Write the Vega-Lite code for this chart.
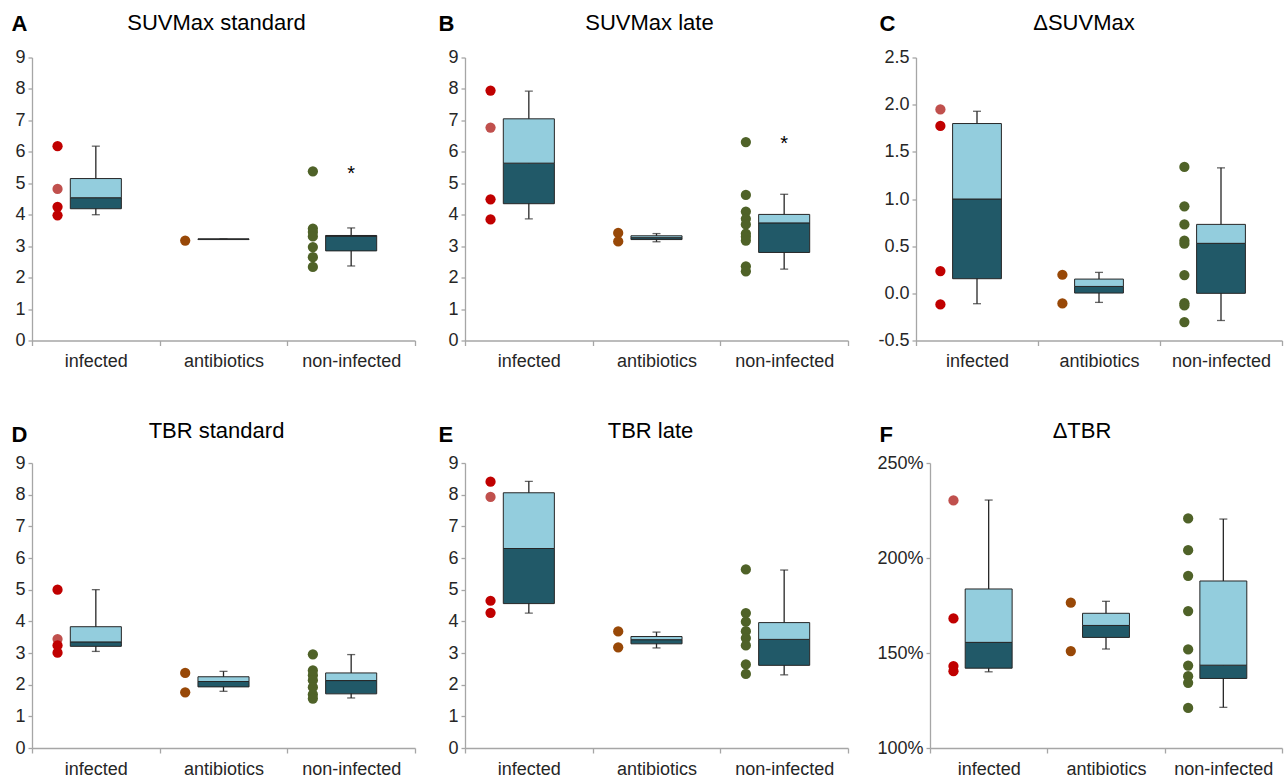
{
 "$schema": "https://vega.github.io/schema/vega-lite/v6.json",
 "padding": {"left": 11, "top": 11.5, "right": 2, "bottom": 0},
 "background": "white",
 "datasets": {
  "points": [
   {"panel":"A","group":"infected","series":"infected (b)","value":4.82},
   {"panel":"A","group":"infected","series":"infected","value":6.18},
   {"panel":"A","group":"infected","series":"infected","value":4.25},
   {"panel":"A","group":"infected","series":"infected","value":3.98},
   {"panel":"A","group":"antibiotics","series":"antibiotics","value":3.18},
   {"panel":"A","group":"non-infected","series":"non-infected","value":5.38},
   {"panel":"A","group":"non-infected","series":"non-infected","value":3.56},
   {"panel":"A","group":"non-infected","series":"non-infected","value":3.45},
   {"panel":"A","group":"non-infected","series":"non-infected","value":3.31},
   {"panel":"A","group":"non-infected","series":"non-infected","value":2.97},
   {"panel":"A","group":"non-infected","series":"non-infected","value":2.65},
   {"panel":"A","group":"non-infected","series":"non-infected","value":2.34},
   {"panel":"B","group":"infected","series":"infected (b)","value":6.77},
   {"panel":"B","group":"infected","series":"infected","value":7.95},
   {"panel":"B","group":"infected","series":"infected","value":4.49},
   {"panel":"B","group":"infected","series":"infected","value":3.85},
   {"panel":"B","group":"antibiotics","series":"antibiotics","value":3.42},
   {"panel":"B","group":"antibiotics","series":"antibiotics","value":3.15},
   {"panel":"B","group":"non-infected","series":"non-infected","value":6.31},
   {"panel":"B","group":"non-infected","series":"non-infected","value":4.63},
   {"panel":"B","group":"non-infected","series":"non-infected","value":4.10},
   {"panel":"B","group":"non-infected","series":"non-infected","value":3.87},
   {"panel":"B","group":"non-infected","series":"non-infected","value":3.69},
   {"panel":"B","group":"non-infected","series":"non-infected","value":3.40},
   {"panel":"B","group":"non-infected","series":"non-infected","value":3.30},
   {"panel":"B","group":"non-infected","series":"non-infected","value":3.18},
   {"panel":"B","group":"non-infected","series":"non-infected","value":2.36},
   {"panel":"B","group":"non-infected","series":"non-infected","value":2.20},
   {"panel":"C","group":"infected","series":"infected (b)","value":1.95},
   {"panel":"C","group":"infected","series":"infected","value":1.775},
   {"panel":"C","group":"infected","series":"infected","value":0.236},
   {"panel":"C","group":"infected","series":"infected","value":-0.118},
   {"panel":"C","group":"antibiotics","series":"antibiotics","value":0.197},
   {"panel":"C","group":"antibiotics","series":"antibiotics","value":-0.107},
   {"panel":"C","group":"non-infected","series":"non-infected","value":1.34},
   {"panel":"C","group":"non-infected","series":"non-infected","value":0.922},
   {"panel":"C","group":"non-infected","series":"non-infected","value":0.731},
   {"panel":"C","group":"non-infected","series":"non-infected","value":0.558},
   {"panel":"C","group":"non-infected","series":"non-infected","value":0.526},
   {"panel":"C","group":"non-infected","series":"non-infected","value":0.194},
   {"panel":"C","group":"non-infected","series":"non-infected","value":-0.104},
   {"panel":"C","group":"non-infected","series":"non-infected","value":-0.128},
   {"panel":"C","group":"non-infected","series":"non-infected","value":-0.305},
   {"panel":"D","group":"infected","series":"infected (b)","value":3.44},
   {"panel":"D","group":"infected","series":"infected","value":5.0},
   {"panel":"D","group":"infected","series":"infected","value":3.24},
   {"panel":"D","group":"infected","series":"infected","value":3.01},
   {"panel":"D","group":"antibiotics","series":"antibiotics","value":2.37},
   {"panel":"D","group":"antibiotics","series":"antibiotics","value":1.76},
   {"panel":"D","group":"non-infected","series":"non-infected","value":2.96},
   {"panel":"D","group":"non-infected","series":"non-infected","value":2.45},
   {"panel":"D","group":"non-infected","series":"non-infected","value":2.30},
   {"panel":"D","group":"non-infected","series":"non-infected","value":2.14},
   {"panel":"D","group":"non-infected","series":"non-infected","value":1.92},
   {"panel":"D","group":"non-infected","series":"non-infected","value":1.69},
   {"panel":"D","group":"non-infected","series":"non-infected","value":1.56},
   {"panel":"E","group":"infected","series":"infected (b)","value":7.93},
   {"panel":"E","group":"infected","series":"infected","value":8.41},
   {"panel":"E","group":"infected","series":"infected","value":4.65},
   {"panel":"E","group":"infected","series":"infected","value":4.27},
   {"panel":"E","group":"antibiotics","series":"antibiotics","value":3.68},
   {"panel":"E","group":"antibiotics","series":"antibiotics","value":3.18},
   {"panel":"E","group":"non-infected","series":"non-infected","value":5.64},
   {"panel":"E","group":"non-infected","series":"non-infected","value":4.26},
   {"panel":"E","group":"non-infected","series":"non-infected","value":3.99},
   {"panel":"E","group":"non-infected","series":"non-infected","value":3.69},
   {"panel":"E","group":"non-infected","series":"non-infected","value":3.47},
   {"panel":"E","group":"non-infected","series":"non-infected","value":3.24},
   {"panel":"E","group":"non-infected","series":"non-infected","value":2.64},
   {"panel":"E","group":"non-infected","series":"non-infected","value":2.34},
   {"panel":"F","group":"infected","series":"infected (b)","value":2.303},
   {"panel":"F","group":"infected","series":"infected","value":1.682},
   {"panel":"F","group":"infected","series":"infected","value":1.431},
   {"panel":"F","group":"infected","series":"infected","value":1.404},
   {"panel":"F","group":"antibiotics","series":"antibiotics","value":1.765},
   {"panel":"F","group":"antibiotics","series":"antibiotics","value":1.510},
   {"panel":"F","group":"non-infected","series":"non-infected","value":2.208},
   {"panel":"F","group":"non-infected","series":"non-infected","value":2.041},
   {"panel":"F","group":"non-infected","series":"non-infected","value":1.906},
   {"panel":"F","group":"non-infected","series":"non-infected","value":1.721},
   {"panel":"F","group":"non-infected","series":"non-infected","value":1.519},
   {"panel":"F","group":"non-infected","series":"non-infected","value":1.434},
   {"panel":"F","group":"non-infected","series":"non-infected","value":1.378},
   {"panel":"F","group":"non-infected","series":"non-infected","value":1.343},
   {"panel":"F","group":"non-infected","series":"non-infected","value":1.211}
  ],
  "boxes": [
   {"panel":"A","group":"infected","low":4.0,"q1":4.19,"median":4.54,"q3":5.15,"high":6.18},
   {"panel":"A","group":"antibiotics","low":3.22,"q1":3.21,"median":3.22,"q3":3.23,"high":3.22},
   {"panel":"A","group":"non-infected","low":2.37,"q1":2.85,"median":3.32,"q3":3.34,"high":3.58},
   {"panel":"B","group":"infected","low":3.87,"q1":4.35,"median":5.64,"q3":7.05,"high":7.93},
   {"panel":"B","group":"antibiotics","low":3.14,"q1":3.21,"median":3.27,"q3":3.33,"high":3.40},
   {"panel":"B","group":"non-infected","low":2.27,"q1":2.80,"median":3.74,"q3":4.01,"high":4.65},
   {"panel":"C","group":"infected","low":-0.11,"q1":0.155,"median":1.0,"q3":1.80,"high":1.93},
   {"panel":"C","group":"antibiotics","low":-0.096,"q1":0.003,"median":0.073,"q3":0.151,"high":0.222},
   {"panel":"C","group":"non-infected","low":-0.288,"q1":0.0,"median":0.53,"q3":0.731,"high":1.33},
   {"panel":"D","group":"infected","low":3.05,"q1":3.21,"median":3.35,"q3":3.83,"high":5.0},
   {"panel":"D","group":"antibiotics","low":1.79,"q1":1.93,"median":2.10,"q3":2.25,"high":2.42},
   {"panel":"D","group":"non-infected","low":1.58,"q1":1.71,"median":2.13,"q3":2.37,"high":2.95},
   {"panel":"E","group":"infected","low":4.26,"q1":4.56,"median":6.30,"q3":8.06,"high":8.42},
   {"panel":"E","group":"antibiotics","low":3.16,"q1":3.29,"median":3.42,"q3":3.52,"high":3.66},
   {"panel":"E","group":"non-infected","low":2.31,"q1":2.61,"median":3.43,"q3":3.96,"high":5.62},
   {"panel":"F","group":"infected","low":1.401,"q1":1.420,"median":1.556,"q3":1.837,"high":2.305},
   {"panel":"F","group":"antibiotics","low":1.521,"q1":1.582,"median":1.645,"q3":1.709,"high":1.772},
   {"panel":"F","group":"non-infected","low":1.214,"q1":1.366,"median":1.436,"q3":1.879,"high":2.205}
  ],
  "stars": [
   {"panel":"A","group":"non-infected","value":5.3,"label":"*"},
   {"panel":"B","group":"non-infected","value":6.25,"label":"*"}
  ]
 },
 "spacing": 49.5,
 "vconcat": [
  {"spacing": 10, "hconcat": [
   {"width":383,"height":283,
    "title":{"text":"SUVMax standard","dx":-7,"dy":26.5},
    "encoding":{"x":{"field":"group","type":"nominal","sort":["infected","antibiotics","non-infected"],"scale":{"paddingInner":0,"paddingOuter":0},"title":null}},
    "layer":[
     {"data":{"name":"boxes"},"transform":[{"filter":"datum.panel === 'A'"}],"mark":{"type":"rule","color":"#262626","strokeWidth":1.3},
      "encoding":{"y":{"field":"low","type":"quantitative","title":"A","scale":{"domain":[0,9],"nice":false},"axis":{"values":[0,1,2,3,4,5,6,7,8,9],"titleX":-21,"titleY":-27}},"y2":{"field":"high"}}},
     {"data":{"name":"boxes"},"transform":[{"filter":"datum.panel === 'A'"}],"mark":{"type":"tick","orient":"horizontal","size":8,"thickness":1.3,"color":"#262626"},
      "encoding":{"y":{"field":"low","type":"quantitative","title":"A","scale":{"domain":[0,9],"nice":false},"axis":{"values":[0,1,2,3,4,5,6,7,8,9],"titleX":-21,"titleY":-27}}}},
     {"data":{"name":"boxes"},"transform":[{"filter":"datum.panel === 'A'"}],"mark":{"type":"tick","orient":"horizontal","size":8,"thickness":1.3,"color":"#262626"},
      "encoding":{"y":{"field":"high","type":"quantitative","title":"A","scale":{"domain":[0,9],"nice":false},"axis":{"values":[0,1,2,3,4,5,6,7,8,9],"titleX":-21,"titleY":-27}}}},
     {"data":{"name":"boxes"},"transform":[{"filter":"datum.panel === 'A'"}],"mark":{"type":"bar","width":{"band":0.4},"fill":"#215968","stroke":"#262626","strokeWidth":1},
      "encoding":{"y":{"field":"q1","type":"quantitative","title":"A","scale":{"domain":[0,9],"nice":false},"axis":{"values":[0,1,2,3,4,5,6,7,8,9],"titleX":-21,"titleY":-27}},"y2":{"field":"median"}}},
     {"data":{"name":"boxes"},"transform":[{"filter":"datum.panel === 'A'"}],"mark":{"type":"bar","width":{"band":0.4},"fill":"#93cddd","stroke":"#262626","strokeWidth":1},
      "encoding":{"y":{"field":"median","type":"quantitative","title":"A","scale":{"domain":[0,9],"nice":false},"axis":{"values":[0,1,2,3,4,5,6,7,8,9],"titleX":-21,"titleY":-27}},"y2":{"field":"q3"}}},
     {"data":{"name":"points"},"transform":[{"filter":"datum.panel === 'A'"}],"mark":{"type":"circle","size":105,"opacity":1},
      "encoding":{"x":{"field":"group","type":"nominal","sort":["infected","antibiotics","non-infected"],"scale":{"paddingInner":0,"paddingOuter":0},"title":null,"bandPosition":0.2},
       "y":{"field":"value","type":"quantitative","title":"A","scale":{"domain":[0,9],"nice":false},"axis":{"values":[0,1,2,3,4,5,6,7,8,9],"titleX":-21,"titleY":-27}},
       "color":{"field":"series","type":"nominal","scale":{"domain":["infected","infected (b)","antibiotics","non-infected"],"range":["#c00000","#c0504d","#984807","#4f6228"]},"legend":null}}},
     {"data":{"name":"stars"},"transform":[{"filter":"datum.panel === 'A'"}],"mark":{"type":"text","fontSize":20,"baseline":"middle","color":"#000000","font":"Liberation Sans"},
      "encoding":{"y":{"field":"value","type":"quantitative","title":"A","scale":{"domain":[0,9],"nice":false},"axis":{"values":[0,1,2,3,4,5,6,7,8,9],"titleX":-21,"titleY":-27}},"text":{"field":"label"}}}
    ]},
   {"width":383,"height":283,
    "title":{"text":"SUVMax late","dx":-7,"dy":26.5},
    "encoding":{"x":{"field":"group","type":"nominal","sort":["infected","antibiotics","non-infected"],"scale":{"paddingInner":0,"paddingOuter":0},"title":null}},
    "layer":[
     {"data":{"name":"boxes"},"transform":[{"filter":"datum.panel === 'B'"}],"mark":{"type":"rule","color":"#262626","strokeWidth":1.3},
      "encoding":{"y":{"field":"low","type":"quantitative","title":"B","scale":{"domain":[0,9],"nice":false},"axis":{"values":[0,1,2,3,4,5,6,7,8,9],"titleX":-27,"titleY":-27,"minExtent":39}},"y2":{"field":"high"}}},
     {"data":{"name":"boxes"},"transform":[{"filter":"datum.panel === 'B'"}],"mark":{"type":"tick","orient":"horizontal","size":8,"thickness":1.3,"color":"#262626"},
      "encoding":{"y":{"field":"low","type":"quantitative","title":"B","scale":{"domain":[0,9],"nice":false},"axis":{"values":[0,1,2,3,4,5,6,7,8,9],"titleX":-27,"titleY":-27,"minExtent":39}}}},
     {"data":{"name":"boxes"},"transform":[{"filter":"datum.panel === 'B'"}],"mark":{"type":"tick","orient":"horizontal","size":8,"thickness":1.3,"color":"#262626"},
      "encoding":{"y":{"field":"high","type":"quantitative","title":"B","scale":{"domain":[0,9],"nice":false},"axis":{"values":[0,1,2,3,4,5,6,7,8,9],"titleX":-27,"titleY":-27,"minExtent":39}}}},
     {"data":{"name":"boxes"},"transform":[{"filter":"datum.panel === 'B'"}],"mark":{"type":"bar","width":{"band":0.4},"fill":"#215968","stroke":"#262626","strokeWidth":1},
      "encoding":{"y":{"field":"q1","type":"quantitative","title":"B","scale":{"domain":[0,9],"nice":false},"axis":{"values":[0,1,2,3,4,5,6,7,8,9],"titleX":-27,"titleY":-27,"minExtent":39}},"y2":{"field":"median"}}},
     {"data":{"name":"boxes"},"transform":[{"filter":"datum.panel === 'B'"}],"mark":{"type":"bar","width":{"band":0.4},"fill":"#93cddd","stroke":"#262626","strokeWidth":1},
      "encoding":{"y":{"field":"median","type":"quantitative","title":"B","scale":{"domain":[0,9],"nice":false},"axis":{"values":[0,1,2,3,4,5,6,7,8,9],"titleX":-27,"titleY":-27,"minExtent":39}},"y2":{"field":"q3"}}},
     {"data":{"name":"points"},"transform":[{"filter":"datum.panel === 'B'"}],"mark":{"type":"circle","size":105,"opacity":1},
      "encoding":{"x":{"field":"group","type":"nominal","sort":["infected","antibiotics","non-infected"],"scale":{"paddingInner":0,"paddingOuter":0},"title":null,"bandPosition":0.2},
       "y":{"field":"value","type":"quantitative","title":"B","scale":{"domain":[0,9],"nice":false},"axis":{"values":[0,1,2,3,4,5,6,7,8,9],"titleX":-27,"titleY":-27,"minExtent":39}},
       "color":{"field":"series","type":"nominal","scale":{"domain":["infected","infected (b)","antibiotics","non-infected"],"range":["#c00000","#c0504d","#984807","#4f6228"]},"legend":null}}},
     {"data":{"name":"stars"},"transform":[{"filter":"datum.panel === 'B'"}],"mark":{"type":"text","fontSize":20,"baseline":"middle","color":"#000000","font":"Liberation Sans"},
      "encoding":{"y":{"field":"value","type":"quantitative","title":"B","scale":{"domain":[0,9],"nice":false},"axis":{"values":[0,1,2,3,4,5,6,7,8,9],"titleX":-27,"titleY":-27,"minExtent":39}},"text":{"field":"label"}}}
    ]},
   {"width":366,"height":283,
    "title":{"text":"ΔSUVMax","dx":-15,"dy":26.5},
    "encoding":{"x":{"field":"group","type":"nominal","sort":["infected","antibiotics","non-infected"],"scale":{"paddingInner":0,"paddingOuter":0},"title":null}},
    "layer":[
     {"data":{"name":"boxes"},"transform":[{"filter":"datum.panel === 'C'"}],"mark":{"type":"rule","color":"#262626","strokeWidth":1.3},
      "encoding":{"y":{"field":"low","type":"quantitative","title":"C","scale":{"domain":[-0.5,2.5],"nice":false},"axis":{"values":[-0.5,0,0.5,1,1.5,2,2.5],"labelExpr":"replace(format(datum.value, '.1f'), '−', '-')","titleX":-37,"titleY":-27,"minExtent":57}},"y2":{"field":"high"}}},
     {"data":{"name":"boxes"},"transform":[{"filter":"datum.panel === 'C'"}],"mark":{"type":"tick","orient":"horizontal","size":8,"thickness":1.3,"color":"#262626"},
      "encoding":{"y":{"field":"low","type":"quantitative","title":"C","scale":{"domain":[-0.5,2.5],"nice":false},"axis":{"values":[-0.5,0,0.5,1,1.5,2,2.5],"labelExpr":"replace(format(datum.value, '.1f'), '−', '-')","titleX":-37,"titleY":-27,"minExtent":57}}}},
     {"data":{"name":"boxes"},"transform":[{"filter":"datum.panel === 'C'"}],"mark":{"type":"tick","orient":"horizontal","size":8,"thickness":1.3,"color":"#262626"},
      "encoding":{"y":{"field":"high","type":"quantitative","title":"C","scale":{"domain":[-0.5,2.5],"nice":false},"axis":{"values":[-0.5,0,0.5,1,1.5,2,2.5],"labelExpr":"replace(format(datum.value, '.1f'), '−', '-')","titleX":-37,"titleY":-27,"minExtent":57}}}},
     {"data":{"name":"boxes"},"transform":[{"filter":"datum.panel === 'C'"}],"mark":{"type":"bar","width":{"band":0.4},"fill":"#215968","stroke":"#262626","strokeWidth":1},
      "encoding":{"y":{"field":"q1","type":"quantitative","title":"C","scale":{"domain":[-0.5,2.5],"nice":false},"axis":{"values":[-0.5,0,0.5,1,1.5,2,2.5],"labelExpr":"replace(format(datum.value, '.1f'), '−', '-')","titleX":-37,"titleY":-27,"minExtent":57}},"y2":{"field":"median"}}},
     {"data":{"name":"boxes"},"transform":[{"filter":"datum.panel === 'C'"}],"mark":{"type":"bar","width":{"band":0.4},"fill":"#93cddd","stroke":"#262626","strokeWidth":1},
      "encoding":{"y":{"field":"median","type":"quantitative","title":"C","scale":{"domain":[-0.5,2.5],"nice":false},"axis":{"values":[-0.5,0,0.5,1,1.5,2,2.5],"labelExpr":"replace(format(datum.value, '.1f'), '−', '-')","titleX":-37,"titleY":-27,"minExtent":57}},"y2":{"field":"q3"}}},
     {"data":{"name":"points"},"transform":[{"filter":"datum.panel === 'C'"}],"mark":{"type":"circle","size":105,"opacity":1},
      "encoding":{"x":{"field":"group","type":"nominal","sort":["infected","antibiotics","non-infected"],"scale":{"paddingInner":0,"paddingOuter":0},"title":null,"bandPosition":0.2},
       "y":{"field":"value","type":"quantitative","title":"C","scale":{"domain":[-0.5,2.5],"nice":false},"axis":{"values":[-0.5,0,0.5,1,1.5,2,2.5],"labelExpr":"replace(format(datum.value, '.1f'), '−', '-')","titleX":-37,"titleY":-27,"minExtent":57}},
       "color":{"field":"series","type":"nominal","scale":{"domain":["infected","infected (b)","antibiotics","non-infected"],"range":["#c00000","#c0504d","#984807","#4f6228"]},"legend":null}}}
    ]}
  ]},
  {"spacing": 10, "hconcat": [
   {"width":383,"height":285,
    "title":{"text":"TBR standard","dx":-7,"dy":24},
    "encoding":{"x":{"field":"group","type":"nominal","sort":["infected","antibiotics","non-infected"],"scale":{"paddingInner":0,"paddingOuter":0},"title":null}},
    "layer":[
     {"data":{"name":"boxes"},"transform":[{"filter":"datum.panel === 'D'"}],"mark":{"type":"rule","color":"#262626","strokeWidth":1.3},
      "encoding":{"y":{"field":"low","type":"quantitative","title":"D","scale":{"domain":[0,9],"nice":false},"axis":{"values":[0,1,2,3,4,5,6,7,8,9],"titleX":-21,"titleY":-22}},"y2":{"field":"high"}}},
     {"data":{"name":"boxes"},"transform":[{"filter":"datum.panel === 'D'"}],"mark":{"type":"tick","orient":"horizontal","size":8,"thickness":1.3,"color":"#262626"},
      "encoding":{"y":{"field":"low","type":"quantitative","title":"D","scale":{"domain":[0,9],"nice":false},"axis":{"values":[0,1,2,3,4,5,6,7,8,9],"titleX":-21,"titleY":-22}}}},
     {"data":{"name":"boxes"},"transform":[{"filter":"datum.panel === 'D'"}],"mark":{"type":"tick","orient":"horizontal","size":8,"thickness":1.3,"color":"#262626"},
      "encoding":{"y":{"field":"high","type":"quantitative","title":"D","scale":{"domain":[0,9],"nice":false},"axis":{"values":[0,1,2,3,4,5,6,7,8,9],"titleX":-21,"titleY":-22}}}},
     {"data":{"name":"boxes"},"transform":[{"filter":"datum.panel === 'D'"}],"mark":{"type":"bar","width":{"band":0.4},"fill":"#215968","stroke":"#262626","strokeWidth":1},
      "encoding":{"y":{"field":"q1","type":"quantitative","title":"D","scale":{"domain":[0,9],"nice":false},"axis":{"values":[0,1,2,3,4,5,6,7,8,9],"titleX":-21,"titleY":-22}},"y2":{"field":"median"}}},
     {"data":{"name":"boxes"},"transform":[{"filter":"datum.panel === 'D'"}],"mark":{"type":"bar","width":{"band":0.4},"fill":"#93cddd","stroke":"#262626","strokeWidth":1},
      "encoding":{"y":{"field":"median","type":"quantitative","title":"D","scale":{"domain":[0,9],"nice":false},"axis":{"values":[0,1,2,3,4,5,6,7,8,9],"titleX":-21,"titleY":-22}},"y2":{"field":"q3"}}},
     {"data":{"name":"points"},"transform":[{"filter":"datum.panel === 'D'"}],"mark":{"type":"circle","size":105,"opacity":1},
      "encoding":{"x":{"field":"group","type":"nominal","sort":["infected","antibiotics","non-infected"],"scale":{"paddingInner":0,"paddingOuter":0},"title":null,"bandPosition":0.2},
       "y":{"field":"value","type":"quantitative","title":"D","scale":{"domain":[0,9],"nice":false},"axis":{"values":[0,1,2,3,4,5,6,7,8,9],"titleX":-21,"titleY":-22}},
       "color":{"field":"series","type":"nominal","scale":{"domain":["infected","infected (b)","antibiotics","non-infected"],"range":["#c00000","#c0504d","#984807","#4f6228"]},"legend":null}}}
    ]},
   {"width":383,"height":285,
    "title":{"text":"TBR late","dx":-6,"dy":24},
    "encoding":{"x":{"field":"group","type":"nominal","sort":["infected","antibiotics","non-infected"],"scale":{"paddingInner":0,"paddingOuter":0},"title":null}},
    "layer":[
     {"data":{"name":"boxes"},"transform":[{"filter":"datum.panel === 'E'"}],"mark":{"type":"rule","color":"#262626","strokeWidth":1.3},
      "encoding":{"y":{"field":"low","type":"quantitative","title":"E","scale":{"domain":[0,9],"nice":false},"axis":{"values":[0,1,2,3,4,5,6,7,8,9],"titleX":-27,"titleY":-22,"minExtent":39}},"y2":{"field":"high"}}},
     {"data":{"name":"boxes"},"transform":[{"filter":"datum.panel === 'E'"}],"mark":{"type":"tick","orient":"horizontal","size":8,"thickness":1.3,"color":"#262626"},
      "encoding":{"y":{"field":"low","type":"quantitative","title":"E","scale":{"domain":[0,9],"nice":false},"axis":{"values":[0,1,2,3,4,5,6,7,8,9],"titleX":-27,"titleY":-22,"minExtent":39}}}},
     {"data":{"name":"boxes"},"transform":[{"filter":"datum.panel === 'E'"}],"mark":{"type":"tick","orient":"horizontal","size":8,"thickness":1.3,"color":"#262626"},
      "encoding":{"y":{"field":"high","type":"quantitative","title":"E","scale":{"domain":[0,9],"nice":false},"axis":{"values":[0,1,2,3,4,5,6,7,8,9],"titleX":-27,"titleY":-22,"minExtent":39}}}},
     {"data":{"name":"boxes"},"transform":[{"filter":"datum.panel === 'E'"}],"mark":{"type":"bar","width":{"band":0.4},"fill":"#215968","stroke":"#262626","strokeWidth":1},
      "encoding":{"y":{"field":"q1","type":"quantitative","title":"E","scale":{"domain":[0,9],"nice":false},"axis":{"values":[0,1,2,3,4,5,6,7,8,9],"titleX":-27,"titleY":-22,"minExtent":39}},"y2":{"field":"median"}}},
     {"data":{"name":"boxes"},"transform":[{"filter":"datum.panel === 'E'"}],"mark":{"type":"bar","width":{"band":0.4},"fill":"#93cddd","stroke":"#262626","strokeWidth":1},
      "encoding":{"y":{"field":"median","type":"quantitative","title":"E","scale":{"domain":[0,9],"nice":false},"axis":{"values":[0,1,2,3,4,5,6,7,8,9],"titleX":-27,"titleY":-22,"minExtent":39}},"y2":{"field":"q3"}}},
     {"data":{"name":"points"},"transform":[{"filter":"datum.panel === 'E'"}],"mark":{"type":"circle","size":105,"opacity":1},
      "encoding":{"x":{"field":"group","type":"nominal","sort":["infected","antibiotics","non-infected"],"scale":{"paddingInner":0,"paddingOuter":0},"title":null,"bandPosition":0.2},
       "y":{"field":"value","type":"quantitative","title":"E","scale":{"domain":[0,9],"nice":false},"axis":{"values":[0,1,2,3,4,5,6,7,8,9],"titleX":-27,"titleY":-22,"minExtent":39}},
       "color":{"field":"series","type":"nominal","scale":{"domain":["infected","infected (b)","antibiotics","non-infected"],"range":["#c00000","#c0504d","#984807","#4f6228"]},"legend":null}}}
    ]},
   {"width":352,"height":285,
    "title":{"text":"ΔTBR","dx":-24,"dy":24},
    "encoding":{"x":{"field":"group","type":"nominal","sort":["infected","antibiotics","non-infected"],"scale":{"paddingInner":0,"paddingOuter":0},"title":null}},
    "layer":[
     {"data":{"name":"boxes"},"transform":[{"filter":"datum.panel === 'F'"}],"mark":{"type":"rule","color":"#262626","strokeWidth":1.3},
      "encoding":{"y":{"field":"low","type":"quantitative","title":"F","scale":{"domain":[1,2.5],"nice":false},"axis":{"values":[1,1.5,2,2.5],"format":".0%","titleX":-51,"titleY":-22,"minExtent":71}},"y2":{"field":"high"}}},
     {"data":{"name":"boxes"},"transform":[{"filter":"datum.panel === 'F'"}],"mark":{"type":"tick","orient":"horizontal","size":8,"thickness":1.3,"color":"#262626"},
      "encoding":{"y":{"field":"low","type":"quantitative","title":"F","scale":{"domain":[1,2.5],"nice":false},"axis":{"values":[1,1.5,2,2.5],"format":".0%","titleX":-51,"titleY":-22,"minExtent":71}}}},
     {"data":{"name":"boxes"},"transform":[{"filter":"datum.panel === 'F'"}],"mark":{"type":"tick","orient":"horizontal","size":8,"thickness":1.3,"color":"#262626"},
      "encoding":{"y":{"field":"high","type":"quantitative","title":"F","scale":{"domain":[1,2.5],"nice":false},"axis":{"values":[1,1.5,2,2.5],"format":".0%","titleX":-51,"titleY":-22,"minExtent":71}}}},
     {"data":{"name":"boxes"},"transform":[{"filter":"datum.panel === 'F'"}],"mark":{"type":"bar","width":{"band":0.4},"fill":"#215968","stroke":"#262626","strokeWidth":1},
      "encoding":{"y":{"field":"q1","type":"quantitative","title":"F","scale":{"domain":[1,2.5],"nice":false},"axis":{"values":[1,1.5,2,2.5],"format":".0%","titleX":-51,"titleY":-22,"minExtent":71}},"y2":{"field":"median"}}},
     {"data":{"name":"boxes"},"transform":[{"filter":"datum.panel === 'F'"}],"mark":{"type":"bar","width":{"band":0.4},"fill":"#93cddd","stroke":"#262626","strokeWidth":1},
      "encoding":{"y":{"field":"median","type":"quantitative","title":"F","scale":{"domain":[1,2.5],"nice":false},"axis":{"values":[1,1.5,2,2.5],"format":".0%","titleX":-51,"titleY":-22,"minExtent":71}},"y2":{"field":"q3"}}},
     {"data":{"name":"points"},"transform":[{"filter":"datum.panel === 'F'"}],"mark":{"type":"circle","size":105,"opacity":1},
      "encoding":{"x":{"field":"group","type":"nominal","sort":["infected","antibiotics","non-infected"],"scale":{"paddingInner":0,"paddingOuter":0},"title":null,"bandPosition":0.2},
       "y":{"field":"value","type":"quantitative","title":"F","scale":{"domain":[1,2.5],"nice":false},"axis":{"values":[1,1.5,2,2.5],"format":".0%","titleX":-51,"titleY":-22,"minExtent":71}},
       "color":{"field":"series","type":"nominal","scale":{"domain":["infected","infected (b)","antibiotics","non-infected"],"range":["#c00000","#c0504d","#984807","#4f6228"]},"legend":null}}}
    ]}
  ]}
 ],
 "config": {
  "font": "Liberation Sans",
  "view": {"stroke": null},
  "axis": {"domainColor":"#a6a6a6","domainWidth":1.3,"tickColor":"#a6a6a6","tickWidth":1.3,"labelFont":"Liberation Sans","labelFontSize":18,"labelColor":"#262626","grid":false,"labelOverlap":false,
           "titleFont":"Liberation Sans","titleFontSize":22,"titleFontWeight":"bold","titleColor":"#000000","titleAngle":0,"titleAlign":"left","titleBaseline":"alphabetic"},
  "axisX": {"tickSize":5,"labelPadding":7,"labelAngle":0,"tickBand":"extent"},
  "axisY": {"tickSize":4,"labelPadding":3,"minExtent":0},
  "title": {"font":"Liberation Sans","fontSize":22,"fontWeight":"normal","color":"#000000","anchor":"middle","frame":"group","baseline":"alphabetic","offset":0}
 }
}
